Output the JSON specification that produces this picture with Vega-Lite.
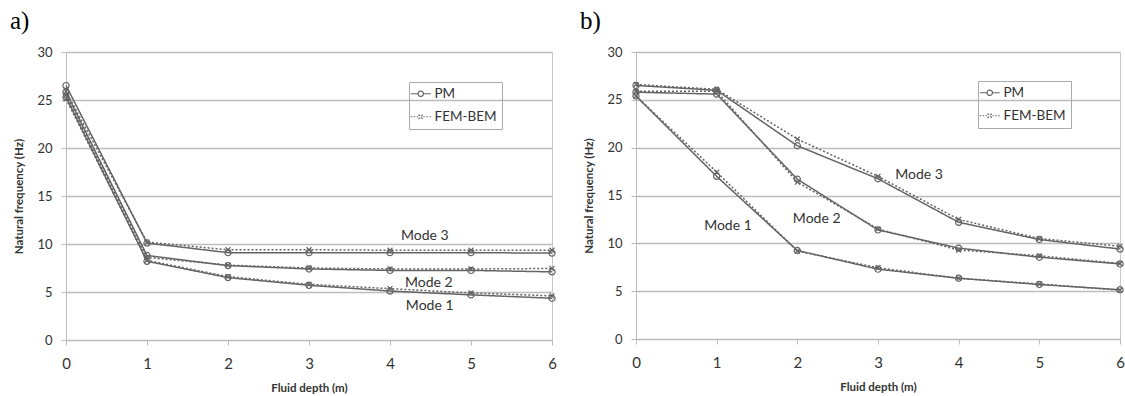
{
  "$schema": "https://vega.github.io/schema/vega-lite/v6.json",
  "background": "white",
  "padding": {"left": 9, "top": 8, "right": 0, "bottom": 0},
  "config": {
    "font": "Lato",
    "view": {"stroke": "#c8c8c8", "strokeWidth": 1},
    "concat": {"spacing": 21},
    "axis": {
      "labelColor": "#333333",
      "titleColor": "#333333",
      "domainColor": "#bdbdbd",
      "tickColor": "#bdbdbd",
      "gridColor": "#bdbdbd",
      "gridWidth": 1.4,
      "titleFontWeight": "bold",
      "titleFontSize": 11.5
    },
    "legend": {
      "title": null,
      "strokeColor": "#aaaaaa",
      "padding": 5,
      "labelFontSize": 13.5,
      "labelColor": "#333333",
      "symbolSize": 100,
      "symbolStrokeColor": "#646464",
      "symbolStrokeWidth": 1.2,
      "symbolFillColor": "transparent",
      "rowPadding": 8,
      "labelOffset": 7
    }
  },
  "datasets": {
    "a": [
      {"depth": 0, "freq": 26.5, "mode": "Mode 3", "method": "PM"},
      {"depth": 1, "freq": 10.1, "mode": "Mode 3", "method": "PM"},
      {"depth": 2, "freq": 9.1, "mode": "Mode 3", "method": "PM"},
      {"depth": 3, "freq": 9.1, "mode": "Mode 3", "method": "PM"},
      {"depth": 4, "freq": 9.1, "mode": "Mode 3", "method": "PM"},
      {"depth": 5, "freq": 9.1, "mode": "Mode 3", "method": "PM"},
      {"depth": 6, "freq": 9.05, "mode": "Mode 3", "method": "PM"},
      {"depth": 0, "freq": 25.9, "mode": "Mode 3", "method": "FEM-BEM"},
      {"depth": 1, "freq": 10.2, "mode": "Mode 3", "method": "FEM-BEM"},
      {"depth": 2, "freq": 9.4, "mode": "Mode 3", "method": "FEM-BEM"},
      {"depth": 3, "freq": 9.4, "mode": "Mode 3", "method": "FEM-BEM"},
      {"depth": 4, "freq": 9.35, "mode": "Mode 3", "method": "FEM-BEM"},
      {"depth": 5, "freq": 9.35, "mode": "Mode 3", "method": "FEM-BEM"},
      {"depth": 6, "freq": 9.35, "mode": "Mode 3", "method": "FEM-BEM"},
      {"depth": 0, "freq": 25.8, "mode": "Mode 2", "method": "PM"},
      {"depth": 1, "freq": 8.8, "mode": "Mode 2", "method": "PM"},
      {"depth": 2, "freq": 7.75, "mode": "Mode 2", "method": "PM"},
      {"depth": 3, "freq": 7.4, "mode": "Mode 2", "method": "PM"},
      {"depth": 4, "freq": 7.25, "mode": "Mode 2", "method": "PM"},
      {"depth": 5, "freq": 7.25, "mode": "Mode 2", "method": "PM"},
      {"depth": 6, "freq": 7.1, "mode": "Mode 2", "method": "PM"},
      {"depth": 0, "freq": 25.5, "mode": "Mode 2", "method": "FEM-BEM"},
      {"depth": 1, "freq": 8.6, "mode": "Mode 2", "method": "FEM-BEM"},
      {"depth": 2, "freq": 7.8, "mode": "Mode 2", "method": "FEM-BEM"},
      {"depth": 3, "freq": 7.5, "mode": "Mode 2", "method": "FEM-BEM"},
      {"depth": 4, "freq": 7.4, "mode": "Mode 2", "method": "FEM-BEM"},
      {"depth": 5, "freq": 7.4, "mode": "Mode 2", "method": "FEM-BEM"},
      {"depth": 6, "freq": 7.45, "mode": "Mode 2", "method": "FEM-BEM"},
      {"depth": 0, "freq": 25.3, "mode": "Mode 1", "method": "PM"},
      {"depth": 1, "freq": 8.2, "mode": "Mode 1", "method": "PM"},
      {"depth": 2, "freq": 6.5, "mode": "Mode 1", "method": "PM"},
      {"depth": 3, "freq": 5.7, "mode": "Mode 1", "method": "PM"},
      {"depth": 4, "freq": 5.1, "mode": "Mode 1", "method": "PM"},
      {"depth": 5, "freq": 4.7, "mode": "Mode 1", "method": "PM"},
      {"depth": 6, "freq": 4.35, "mode": "Mode 1", "method": "PM"},
      {"depth": 0, "freq": 25.1, "mode": "Mode 1", "method": "FEM-BEM"},
      {"depth": 1, "freq": 8.3, "mode": "Mode 1", "method": "FEM-BEM"},
      {"depth": 2, "freq": 6.6, "mode": "Mode 1", "method": "FEM-BEM"},
      {"depth": 3, "freq": 5.8, "mode": "Mode 1", "method": "FEM-BEM"},
      {"depth": 4, "freq": 5.35, "mode": "Mode 1", "method": "FEM-BEM"},
      {"depth": 5, "freq": 4.9, "mode": "Mode 1", "method": "FEM-BEM"},
      {"depth": 6, "freq": 4.6, "mode": "Mode 1", "method": "FEM-BEM"}
    ],
    "b": [
      {"depth": 0, "freq": 26.5, "mode": "Mode 3", "method": "PM"},
      {"depth": 1, "freq": 26.0, "mode": "Mode 3", "method": "PM"},
      {"depth": 2, "freq": 20.2, "mode": "Mode 3", "method": "PM"},
      {"depth": 3, "freq": 16.75, "mode": "Mode 3", "method": "PM"},
      {"depth": 4, "freq": 12.2, "mode": "Mode 3", "method": "PM"},
      {"depth": 5, "freq": 10.4, "mode": "Mode 3", "method": "PM"},
      {"depth": 6, "freq": 9.4, "mode": "Mode 3", "method": "PM"},
      {"depth": 0, "freq": 26.6, "mode": "Mode 3", "method": "FEM-BEM"},
      {"depth": 1, "freq": 26.1, "mode": "Mode 3", "method": "FEM-BEM"},
      {"depth": 2, "freq": 20.9, "mode": "Mode 3", "method": "FEM-BEM"},
      {"depth": 3, "freq": 17.0, "mode": "Mode 3", "method": "FEM-BEM"},
      {"depth": 4, "freq": 12.5, "mode": "Mode 3", "method": "FEM-BEM"},
      {"depth": 5, "freq": 10.5, "mode": "Mode 3", "method": "FEM-BEM"},
      {"depth": 6, "freq": 9.7, "mode": "Mode 3", "method": "FEM-BEM"},
      {"depth": 0, "freq": 25.8, "mode": "Mode 2", "method": "PM"},
      {"depth": 1, "freq": 25.6, "mode": "Mode 2", "method": "PM"},
      {"depth": 2, "freq": 16.7, "mode": "Mode 2", "method": "PM"},
      {"depth": 3, "freq": 11.4, "mode": "Mode 2", "method": "PM"},
      {"depth": 4, "freq": 9.5, "mode": "Mode 2", "method": "PM"},
      {"depth": 5, "freq": 8.55, "mode": "Mode 2", "method": "PM"},
      {"depth": 6, "freq": 7.85, "mode": "Mode 2", "method": "PM"},
      {"depth": 0, "freq": 25.9, "mode": "Mode 2", "method": "FEM-BEM"},
      {"depth": 1, "freq": 25.9, "mode": "Mode 2", "method": "FEM-BEM"},
      {"depth": 2, "freq": 16.4, "mode": "Mode 2", "method": "FEM-BEM"},
      {"depth": 3, "freq": 11.5, "mode": "Mode 2", "method": "FEM-BEM"},
      {"depth": 4, "freq": 9.3, "mode": "Mode 2", "method": "FEM-BEM"},
      {"depth": 5, "freq": 8.7, "mode": "Mode 2", "method": "FEM-BEM"},
      {"depth": 6, "freq": 7.9, "mode": "Mode 2", "method": "FEM-BEM"},
      {"depth": 0, "freq": 25.4, "mode": "Mode 1", "method": "PM"},
      {"depth": 1, "freq": 17.0, "mode": "Mode 1", "method": "PM"},
      {"depth": 2, "freq": 9.25, "mode": "Mode 1", "method": "PM"},
      {"depth": 3, "freq": 7.3, "mode": "Mode 1", "method": "PM"},
      {"depth": 4, "freq": 6.35, "mode": "Mode 1", "method": "PM"},
      {"depth": 5, "freq": 5.7, "mode": "Mode 1", "method": "PM"},
      {"depth": 6, "freq": 5.15, "mode": "Mode 1", "method": "PM"},
      {"depth": 0, "freq": 25.4, "mode": "Mode 1", "method": "FEM-BEM"},
      {"depth": 1, "freq": 17.45, "mode": "Mode 1", "method": "FEM-BEM"},
      {"depth": 2, "freq": 9.2, "mode": "Mode 1", "method": "FEM-BEM"},
      {"depth": 3, "freq": 7.45, "mode": "Mode 1", "method": "FEM-BEM"},
      {"depth": 4, "freq": 6.35, "mode": "Mode 1", "method": "FEM-BEM"},
      {"depth": 5, "freq": 5.75, "mode": "Mode 1", "method": "FEM-BEM"},
      {"depth": 6, "freq": 5.1, "mode": "Mode 1", "method": "FEM-BEM"}
    ],
    "la": [
      {"depth": 4.43, "freq": 10.8, "label": "Mode 3"},
      {"depth": 4.48, "freq": 5.95, "label": "Mode 2"},
      {"depth": 4.49, "freq": 3.5, "label": "Mode 1"}
    ],
    "lb": [
      {"depth": 3.51, "freq": 17.1, "label": "Mode 3"},
      {"depth": 2.24, "freq": 12.5, "label": "Mode 2"},
      {"depth": 1.14, "freq": 11.85, "label": "Mode 1"}
    ]
  },
  "hconcat": [
    {
      "title": {"text": "a)", "anchor": "start", "frame": "bounds", "font": "Liberation Serif", "fontSize": 25, "fontWeight": "normal", "color": "#000000", "offset": 12, "dx": -4},
      "width": 486,
      "height": 288,
      "layer": [
        {
          "data": {"name": "a"},
          "mark": {"type": "line", "strokeWidth": 1.5, "color": "#646464"},
          "encoding": {
            "x": {"field": "depth", "type": "quantitative", "scale": {"domain": [0, 6]},
                  "axis": {"title": "Fluid depth (m)", "values": [0, 1, 2, 3, 4, 5, 6], "format": "d", "labelFlush": false, "grid": false, "labelFontSize": 15, "labelPadding": 11, "tickSize": 5, "titlePadding": 11}},
            "y": {"field": "freq", "type": "quantitative", "scale": {"domain": [0, 30]},
                  "axis": {"title": "Natural frequency (Hz)", "values": [0, 5, 10, 15, 20, 25, 30], "labelFontSize": 13, "tickSize": 5, "labelPadding": 9, "titlePadding": 12}},
            "detail": {"field": "mode"},
            "strokeDash": {"field": "method", "type": "nominal", "scale": {"domain": ["PM", "FEM-BEM"], "range": [[1, 0], [2, 2]]},
                           "legend": {"orient": "none", "legendX": 343, "legendY": 30,
                                      "encode": {"symbols": {"update": {"shape": {"signal": "datum.value === 'PM' ? 'M-2,0L-0.54,0M0.54,0L2,0M-0.54,0A0.54,0.54 0 1,0 0.54,0A0.54,0.54 0 1,0 -0.54,0' : 'M-2,0L-1.7,0M-1.4,0L-1.1,0M-0.8,0L-0.55,0M0.55,0L0.8,0M1.1,0L1.4,0M1.7,0L2,0M-0.45,-0.45L0.45,0.45M-0.45,0.45L0.45,-0.45'"}, "strokeDash": {"value": [1, 0]}, "fill": {"value": "transparent"}}}}}}
          }
        },
        {
          "data": {"name": "a"},
          "transform": [{"filter": "datum.method === 'PM'"}],
          "mark": {"type": "point", "shape": "circle", "filled": false, "size": 38, "strokeWidth": 1.2, "color": "#646464", "opacity": 1},
          "encoding": {
            "x": {"field": "depth", "type": "quantitative"},
            "y": {"field": "freq", "type": "quantitative"}
          }
        },
        {
          "data": {"name": "a"},
          "transform": [{"filter": "datum.method === 'FEM-BEM'"}],
          "mark": {"type": "point", "shape": "M-0.8,-0.8L0.8,0.8M-0.8,0.8L0.8,-0.8", "filled": false, "size": 38, "strokeWidth": 1.2, "color": "#646464", "opacity": 1},
          "encoding": {
            "x": {"field": "depth", "type": "quantitative"},
            "y": {"field": "freq", "type": "quantitative"}
          }
        },
        {
          "data": {"name": "la"},
          "mark": {"type": "text", "fontSize": 14, "color": "#333333"},
          "encoding": {
            "x": {"field": "depth", "type": "quantitative"},
            "y": {"field": "freq", "type": "quantitative"},
            "text": {"field": "label"}
          }
        }
      ]
    },
    {
      "title": {"text": "b)", "anchor": "start", "frame": "bounds", "font": "Liberation Serif", "fontSize": 25, "fontWeight": "normal", "color": "#000000", "offset": 12, "dx": -4},
      "width": 484,
      "height": 287,
      "layer": [
        {
          "data": {"name": "b"},
          "mark": {"type": "line", "strokeWidth": 1.5, "color": "#646464"},
          "encoding": {
            "x": {"field": "depth", "type": "quantitative", "scale": {"domain": [0, 6]},
                  "axis": {"title": "Fluid depth (m)", "values": [0, 1, 2, 3, 4, 5, 6], "format": "d", "labelFlush": false, "grid": false, "labelFontSize": 15, "labelPadding": 11, "tickSize": 5, "titlePadding": 11}},
            "y": {"field": "freq", "type": "quantitative", "scale": {"domain": [0, 30]},
                  "axis": {"title": "Natural frequency (Hz)", "values": [0, 5, 10, 15, 20, 25, 30], "labelFontSize": 13, "tickSize": 5, "labelPadding": 9, "titlePadding": 12}},
            "detail": {"field": "mode"},
            "strokeDash": {"field": "method", "type": "nominal", "scale": {"domain": ["PM", "FEM-BEM"], "range": [[1, 0], [2, 2]]},
                           "legend": {"orient": "none", "legendX": 342, "legendY": 29,
                                      "encode": {"symbols": {"update": {"shape": {"signal": "datum.value === 'PM' ? 'M-2,0L-0.54,0M0.54,0L2,0M-0.54,0A0.54,0.54 0 1,0 0.54,0A0.54,0.54 0 1,0 -0.54,0' : 'M-2,0L-1.7,0M-1.4,0L-1.1,0M-0.8,0L-0.55,0M0.55,0L0.8,0M1.1,0L1.4,0M1.7,0L2,0M-0.45,-0.45L0.45,0.45M-0.45,0.45L0.45,-0.45'"}, "strokeDash": {"value": [1, 0]}, "fill": {"value": "transparent"}}}}}}
          }
        },
        {
          "data": {"name": "b"},
          "transform": [{"filter": "datum.method === 'PM'"}],
          "mark": {"type": "point", "shape": "circle", "filled": false, "size": 38, "strokeWidth": 1.2, "color": "#646464", "opacity": 1},
          "encoding": {
            "x": {"field": "depth", "type": "quantitative"},
            "y": {"field": "freq", "type": "quantitative"}
          }
        },
        {
          "data": {"name": "b"},
          "transform": [{"filter": "datum.method === 'FEM-BEM'"}],
          "mark": {"type": "point", "shape": "M-0.8,-0.8L0.8,0.8M-0.8,0.8L0.8,-0.8", "filled": false, "size": 38, "strokeWidth": 1.2, "color": "#646464", "opacity": 1},
          "encoding": {
            "x": {"field": "depth", "type": "quantitative"},
            "y": {"field": "freq", "type": "quantitative"}
          }
        },
        {
          "data": {"name": "lb"},
          "mark": {"type": "text", "fontSize": 14, "color": "#333333"},
          "encoding": {
            "x": {"field": "depth", "type": "quantitative"},
            "y": {"field": "freq", "type": "quantitative"},
            "text": {"field": "label"}
          }
        }
      ]
    }
  ],
  "resolve": {"scale": {"strokeDash": "independent"}}
}
